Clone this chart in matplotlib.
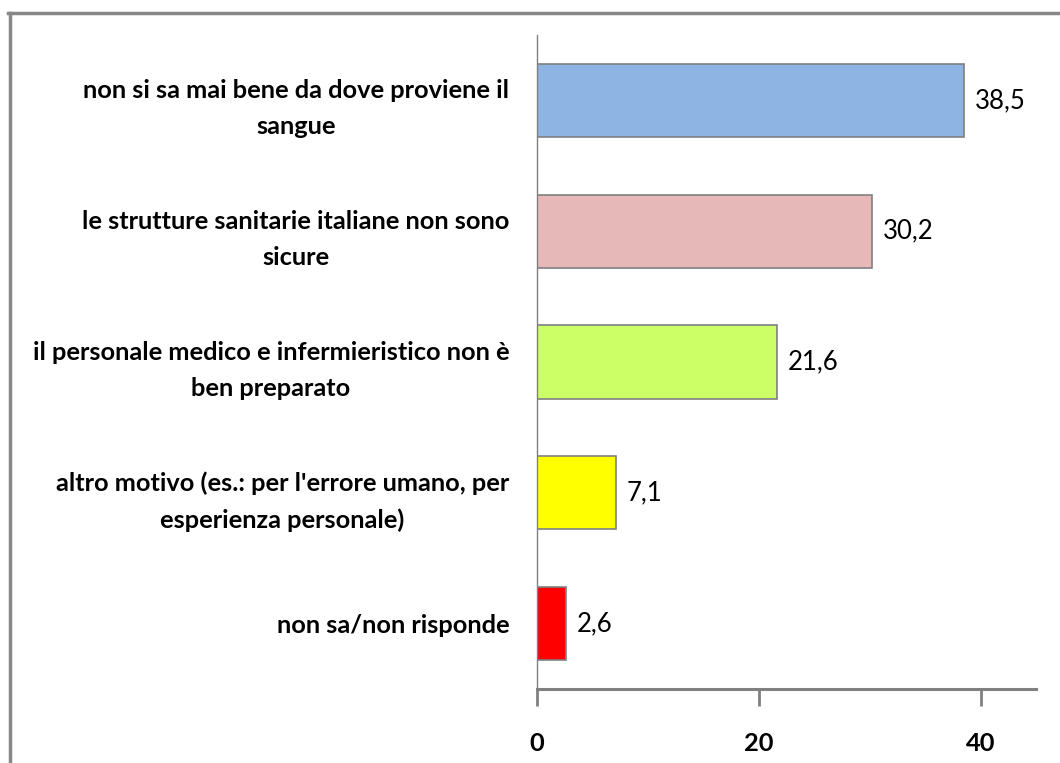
import matplotlib
matplotlib.use("Agg")
import matplotlib.pyplot as plt
from matplotlib.lines import Line2D

categories = [
    "non si sa mai bene da dove proviene il\nsangue",
    "le strutture sanitarie italiane non sono\nsicure",
    "il personale medico e infermieristico non è\nben preparato",
    "altro motivo (es.: per l'errore umano, per\nesperienza personale)",
    "non sa/non risponde",
]
values = [38.5, 30.2, 21.6, 7.1, 2.6]
value_labels = ["38,5", "30,2", "21,6", "7,1", "2,6"]
colors = ["#8EB4E3", "#E6B9B8", "#CCFF66", "#FFFF00", "#FF0000"]
xticks = [0, 20, 40]

plt.rcParams['font.family'] = ['Lato', 'DejaVu Sans']

fig = plt.figure(figsize=(10.6, 7.63), dpi=100)
ax = fig.add_axes([537/1060, 1-689/763, (1036-537)/1060, (689-35)/763])

ypos = list(range(len(categories)))
ax.barh(ypos, values, height=0.56, color=colors, edgecolor="#808080", linewidth=1.2)
ax.set_ylim(len(categories) - 0.5, -0.5)
ax.set_xlim(0, 45)

for y, v, lab in zip(ypos, values, value_labels):
    ax.text(v + 1.0, y, lab, va="center", ha="left", fontsize=18.5, color="black")

ax.set_yticks(ypos)
ax.set_yticklabels(categories, fontsize=18.3, fontweight="bold", multialignment="center", linespacing=1.68)
ax.tick_params(axis="y", length=0, pad=20)

ax.set_xticks(xticks)
ax.set_xticklabels([str(t) for t in xticks], fontsize=18.3, fontweight="bold")
ax.tick_params(axis="x", direction="out", length=12, width=2, color="#808080", pad=19)

for s in ["top", "right"]:
    ax.spines[s].set_visible(False)
ax.spines["left"].set_color("#808080")
ax.spines["left"].set_linewidth(1.0)
ax.spines["bottom"].set_color("#808080")
ax.spines["bottom"].set_linewidth(2.2)

# outer frame (partially cropped)
fig.add_artist(Line2D([9.5/1060, 9.5/1060], [0, 1-12.5/763], transform=fig.transFigure, color="#888888", linewidth=2.5))
fig.add_artist(Line2D([8/1060, 1], [1-12.5/763, 1-12.5/763], transform=fig.transFigure, color="#888888", linewidth=2.5))

fig.savefig("out.png", dpi=100)
